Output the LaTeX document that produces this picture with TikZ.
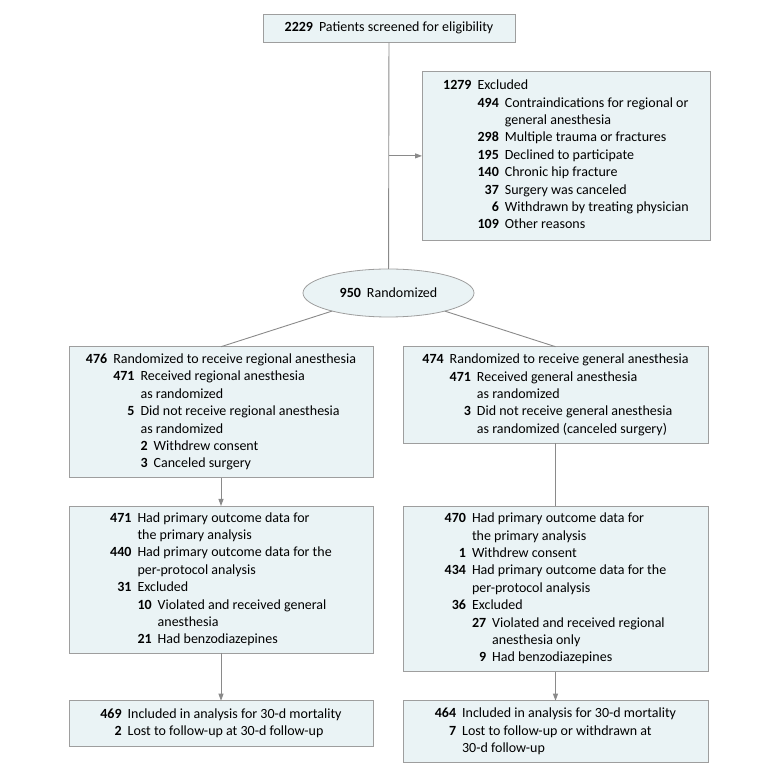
\documentclass[tikz,border=0pt]{standalone}
\usepackage{fontspec}
\setmainfont{Carlito}
\usepackage{array}
\usetikzlibrary{positioning,arrows.meta,shapes.geometric}

\definecolor{boxfill}{RGB}{234,243,245}
\definecolor{boxline}{RGB}{158,158,158}
\definecolor{linkgray}{RGB}{138,138,138}
\newcommand{\nb}[1]{\textbf{#1}}
\newcommand{\tx}[2]{\multicolumn{#1}{@{}l@{}}{#2}}

\begin{document}
\begin{tikzpicture}[
  x=1pt, y=1pt,
  font=\fontsize{14}{17.4}\selectfont,
  box/.style={draw=boxline, fill=boxfill, line width=0.8pt,
              inner sep=0pt, outer sep=0pt},
  leftblk/.style={box, minimum width=304pt},
  rightblk/.style={box, minimum width=305pt},
  randblk/.style={box, ellipse, minimum width=171pt, minimum height=48pt},
  link/.style={linkgray, line width=0.9pt},
  arr/.style={link, -{Triangle[length=7pt,width=5pt]}}
]
\useasboundingbox (0,0) rectangle (780,-775);

% ---- screening and exclusions ----
\node[box, minimum width=252pt, minimum height=28.5pt] (screen) at (389,-28.3)
  {\nb{2229}\hspace{6pt}Patients screened for eligibility};
\node[box, minimum width=288pt, minimum height=169.7pt] (excl) at (566,-155.9)
  {\begin{tabular}{@{}r@{\hspace{6pt}}r@{\hspace{6pt}}l@{}}
   \nb{1279} & \tx{2}{Excluded}\\
   & \nb{494} & Contraindications for regional or\\
   &          & general anesthesia\\
   & \nb{298} & Multiple trauma or fractures\\
   & \nb{195} & Declined to participate\\
   & \nb{140} & Chronic hip fracture\\
   & \nb{37}  & Surgery was canceled\\
   & \nb{6}   & Withdrawn by treating physician\\
   & \nb{109} & Other reasons
   \end{tabular}};
\node[randblk] (rand) at (388.5,-293) {\nb{950}\hspace{6pt}Randomized};

% ---- allocation ----
\node[leftblk, minimum height=131pt] (reg1) at (221,-412.2)
  {\begin{tabular}{@{}r@{\hspace{6pt}}r@{\hspace{6pt}}r@{\hspace{6pt}}l@{}}
   \nb{476} & \tx{3}{Randomized to receive regional anesthesia}\\
   & \nb{471} & \tx{2}{Received regional anesthesia}\\
   &          & \tx{2}{as randomized}\\
   & \nb{5}   & \tx{2}{Did not receive regional anesthesia}\\
   &          & \tx{2}{as randomized}\\
   & & \nb{2} & Withdrew consent\\
   & & \nb{3} & Canceled surgery
   \end{tabular}};
\node[rightblk, minimum height=96.8pt] (gen1) at (555.5,-395.1)
  {\begin{tabular}{@{}r@{\hspace{6pt}}r@{\hspace{6pt}}l@{}}
   \nb{474} & \tx{2}{Randomized to receive general anesthesia}\\
   & \nb{471} & Received general anesthesia\\
   &          & as randomized\\
   & \nb{3}   & Did not receive general anesthesia\\
   &          & as randomized (canceled surgery)
   \end{tabular}};

% ---- analysis ----
\node[leftblk, minimum height=147pt, below=28.3pt of reg1] (reg2)
  {\begin{tabular}{@{}r@{\hspace{6pt}}r@{\hspace{6pt}}l@{}}
   \nb{471} & \tx{2}{Had primary outcome data for}\\
            & \tx{2}{the primary analysis}\\
   \nb{440} & \tx{2}{Had primary outcome data for the}\\
            & \tx{2}{per-protocol analysis}\\
   \nb{31}  & \tx{2}{Excluded}\\
   & \nb{10} & Violated and received general\\
   &         & anesthesia\\
   & \nb{21} & Had benzodiazepines
   \end{tabular}};
\node[rightblk, minimum height=165.7pt, below=62.5pt of gen1] (gen2)
  {\begin{tabular}{@{}r@{\hspace{6pt}}r@{\hspace{6pt}}l@{}}
   \nb{470} & \tx{2}{Had primary outcome data for}\\
            & \tx{2}{the primary analysis}\\
   \nb{1}   & \tx{2}{Withdrew consent}\\
   \nb{434} & \tx{2}{Had primary outcome data for the}\\
            & \tx{2}{per-protocol analysis}\\
   \nb{36}  & \tx{2}{Excluded}\\
   & \nb{27} & Violated and received regional\\
   &         & anesthesia only\\
   & \nb{9}  & Had benzodiazepines
   \end{tabular}};

% ---- 30-d mortality ----
\node[leftblk, minimum height=46pt, below=47.7pt of reg2] (reg3)
  {\begin{tabular}{@{}r@{\hspace{6pt}}l@{}}
   \nb{469} & Included in analysis for 30-d mortality\\
   \nb{2}   & Lost to follow-up at 30-d follow-up
   \end{tabular}};
\node[rightblk, minimum height=62pt, below=29pt of gen2] (gen3)
  {\begin{tabular}{@{}r@{\hspace{6pt}}l@{}}
   \nb{464} & Included in analysis for 30-d mortality\\
   \nb{7}   & Lost to follow-up or withdrawn at\\
            & 30-d follow-up
   \end{tabular}};

% ---- connectors ----
\coordinate (tap) at (screen.south |- excl.west);
\draw[link] (screen) -- (rand);
\draw[arr] (tap) -- (excl.west);
\draw[link] (rand) -- (reg1.north);
\draw[link] (rand) -- (gen1.north);
\draw[arr] (reg1) -- (reg2);
\draw[link] (gen1) -- (gen2);
\draw[arr] (reg2) -- (reg3);
\draw[arr] (gen2) -- (gen3);
\end{tikzpicture}
\end{document}
